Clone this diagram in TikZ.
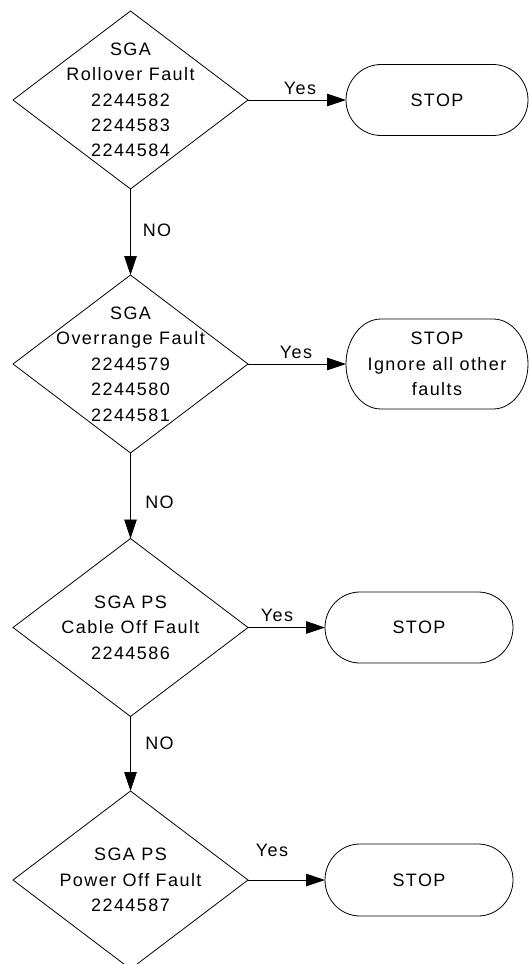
\documentclass[tikz,border=0pt]{standalone}
\usepackage{fontspec}
\usetikzlibrary{shapes.geometric,arrows.meta}
\newfontfamily\lblfont{Liberation Sans}[LetterSpace=8]
\newcommand\lbl{\lblfont\fontsize{18}{25.4}\selectfont}
% stadium outline around a (borderless) rectangle node
\newcommand\terminaloutline[3]{%
  \draw[outline] ([xshift=#2]#1.north west) -- ([xshift=-#2]#1.north east)
    arc[start angle=90, end angle=-90, x radius=#2, y radius=#3]
    -- ([xshift=#2]#1.south west)
    arc[start angle=270, end angle=90, x radius=#2, y radius=#3] -- cycle;}
\tikzset{
  outline/.style={draw=black, line width=0.8pt},
  decision/.style={diamond, outline, inner sep=0pt, outer sep=0pt,
    minimum width=235pt, minimum height=178pt},
  txt/.style={align=center, font=\lbl, inner sep=0pt},
  stopbox/.style={rectangle, draw=none, inner sep=0pt, outer sep=0pt,
    align=center, font=\lbl},
  flow/.style={outline, -{Triangle[length=19pt, width=12.5pt]}},
}
\begin{document}
\begin{tikzpicture}[x=1pt, y=-1pt]
  \useasboundingbox (0,0) rectangle (530,964);
  \clip (0,0) rectangle (530,964);

  % decisions
  \node[decision] (d1) at (130.5,100) {};
  \node[decision] (d2) at (130.5,364) {};
  \node[decision] (d3) at (130.5,627.5) {};
  \node[decision] (d4) at (130.5,880) {};
  \node[txt] (t1) at (130.5,100) {SGA\\Rollover Fault\\2244582\\2244583\\2244584};
  \node[txt] (t2) at (130.5,364) {SGA\\Overrange Fault\\2244579\\2244580\\2244581};
  \node[txt] (t3) at (130.5,627.5) {SGA PS\\Cable Off Fault\\2244586};
  \node[txt] (t4) at (130.5,880) {SGA PS\\Power Off Fault\\2244587};

  % terminals
  \node[stopbox, minimum width=182pt, minimum height=71pt] (s1) at (437,100) {STOP};
  \node[stopbox, minimum width=182pt, minimum height=90pt] (s2) at (437,364) {STOP\\Ignore all other\\faults};
  \node[stopbox, minimum width=188pt, minimum height=71pt] (s3) at (419,627.5) {STOP};
  \node[stopbox, minimum width=188pt, minimum height=72pt] (s4) at (419,880) {STOP};
  \terminaloutline{s1}{35pt}{35.5pt}
  \terminaloutline{s2}{35pt}{45pt}
  \terminaloutline{s3}{35pt}{35.5pt}
  \terminaloutline{s4}{35pt}{36pt}

  % connectors
  \draw[flow] (d1.east) -- (s1.west);
  \draw[flow] (d2.east) -- (s2.west);
  \draw[flow] (d3.east) -- (s3.west);
  \draw[flow] (d4.east) -- (s4.west);
  \draw[flow] (d1.south) -- (d2.north);
  \draw[flow] (d2.south) -- (d3.north);
  \draw[flow] (d3.south) -- (d4.north);

  % branch labels
  \node[txt] (y1) at (300,88) {Yes};
  \node[txt] (y2) at (296,352) {Yes};
  \node[txt] (y3) at (277,615) {Yes};
  \node[txt] (y4) at (272,850) {Yes};
  \node[txt] (n1) at (157,230) {NO};
  \node[txt] (n2) at (159.5,502.5) {NO};
  \node[txt] (n3) at (159.5,743) {NO};
\end{tikzpicture}
\end{document}
